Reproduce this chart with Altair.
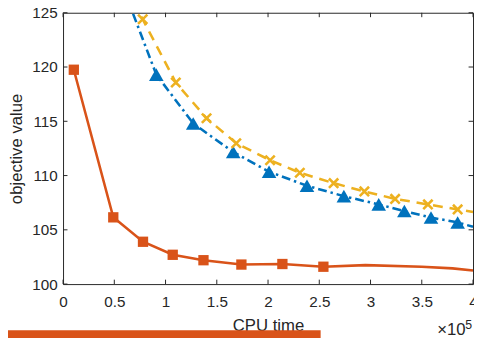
import altair as alt
import pandas as pd

# ---- data (x in units of 1e5 CPU time) ----
orange_x = [0.105, 0.49, 0.78, 1.07, 1.37, 1.74, 2.14, 2.54, 2.95, 3.5, 3.8, 4.0]
orange_y = [119.75, 106.15, 103.9, 102.7, 102.2, 101.8, 101.85, 101.6, 101.75, 101.6, 101.45, 101.25]
orange_mark = [1, 1, 1, 1, 1, 1, 1, 1, 0, 0, 0, 0]

blue_x = [0.55, 0.91, 1.27, 1.66, 2.01, 2.38, 2.74, 3.08, 3.33, 3.59, 3.85, 4.0]
blue_y = [128.2, 119.3, 114.8, 112.17, 110.35, 109.06, 108.1, 107.34, 106.73, 106.13, 105.68, 105.28]
blue_mark = [0, 1, 1, 1, 1, 1, 1, 1, 1, 1, 1, 0]

yellow_x = [0.6, 0.777, 1.10, 1.40, 1.69, 2.02, 2.31, 2.64, 2.94, 3.24, 3.56, 3.85, 4.0]
yellow_y = [127.3, 124.4, 118.57, 115.28, 112.98, 111.41, 110.26, 109.3, 108.54, 107.85, 107.34, 106.88, 106.64]
yellow_mark = [0, 1, 1, 1, 1, 1, 1, 1, 1, 1, 1, 1, 0]

x_ticks = [0, 0.5, 1, 1.5, 2, 2.5, 3, 3.5, 4]
y_ticks = [100, 105, 110, 115, 120, 125]
exp_labels = ["×10", "5"]

W, H = 417, 276
TXT = "#262626"
FONT = "Liberation Sans"
FS = 15.5
TFS = 17

ORANGE, BLUE, YELLOW = "#D95319", "#0072BD", "#EDB120"

def frame(xs, ys, ms):
    return pd.DataFrame({"x": xs, "y": ys, "m": ms})

dfo = frame(orange_x, orange_y, orange_mark)
dfb = frame(blue_x, blue_y, blue_mark)
dfy = frame(yellow_x, yellow_y, yellow_mark)

xsc = alt.Scale(domain=[0, 4], nice=False, zero=False)
ysc = alt.Scale(domain=[100, 125], nice=False, zero=False)

X = alt.X("x:Q", scale=xsc, axis=alt.Axis(values=x_ticks, ticks=False, domain=False, grid=False,
          title="CPU time", labelPadding=11, titlePadding=8, labelFlush=False,
          labelOverlap=False, labelBound=False, format="~g"))
Y = alt.Y("y:Q", scale=ysc, axis=alt.Axis(values=y_ticks, ticks=False, domain=False, grid=False,
          title="objective value", labelPadding=6, titlePadding=6, labelBound=False))

line_o = alt.Chart(dfo).mark_line(color=ORANGE, strokeWidth=2.6, clip=True).encode(x=X, y=Y)
pts_o = alt.Chart(dfo).transform_filter("datum.m == 1").mark_point(
    shape="square", filled=True, color=ORANGE, size=110, opacity=1).encode(x="x:Q", y="y:Q")

line_b = alt.Chart(dfb).mark_line(color=BLUE, strokeWidth=2.6, strokeDash=[9, 4, 2.5, 4], clip=True).encode(x="x:Q", y="y:Q")
pts_b = alt.Chart(dfb).transform_filter("datum.m == 1").mark_point(
    shape="triangle-up", filled=True, color=BLUE, size=220, opacity=1).encode(x="x:Q", y="y:Q")

line_y = alt.Chart(dfy).mark_line(color=YELLOW, strokeWidth=2.6, strokeDash=[10, 7], clip=True).encode(x="x:Q", y="y:Q")
pts_y = alt.Chart(dfy).transform_filter("datum.m == 1").mark_point(
    shape="M-1,-1L1,1M1,-1L-1,1", filled=False, color=YELLOW, size=90, strokeWidth=2.6, opacity=1).encode(x="x:Q", y="y:Q")

xt = pd.DataFrame({"x": x_ticks})
yt = pd.DataFrame({"y": y_ticks})
TL = 4.5
tick_b = alt.Chart(xt).mark_rule(color=TXT, strokeWidth=1).encode(x="x:Q", y=alt.value(H), y2=alt.value(H - TL))
tick_t = alt.Chart(xt).mark_rule(color=TXT, strokeWidth=1).encode(x="x:Q", y=alt.value(0), y2=alt.value(TL))
tick_l = alt.Chart(yt).mark_rule(color=TXT, strokeWidth=1).encode(y="y:Q", x=alt.value(0), x2=alt.value(TL))
tick_r = alt.Chart(yt).mark_rule(color=TXT, strokeWidth=1).encode(y="y:Q", x=alt.value(W), x2=alt.value(W - TL))

bar = alt.Chart(pd.DataFrame({"a": [0]})).mark_rule(color=ORANGE, strokeWidth=8, strokeCap="butt").encode(
    x=alt.value(-70), x2=alt.value(262), y=alt.value(327))

exp_base = alt.Chart(pd.DataFrame({"t": [exp_labels[0]]})).mark_text(
    font=FONT, fontSize=17, color=TXT, align="right", baseline="alphabetic").encode(
    text="t:N", x=alt.value(409.5), y=alt.value(328))
exp_sup = alt.Chart(pd.DataFrame({"t": [exp_labels[1]]})).mark_text(
    font=FONT, fontSize=12.5, color=TXT, align="left", baseline="alphabetic").encode(
    text="t:N", x=alt.value(409), y=alt.value(321.5))

chart = alt.layer(
    line_o, line_b, line_y, pts_o, pts_b, pts_y,
    tick_b, tick_t, tick_l, tick_r, bar, exp_base, exp_sup
).properties(
    width=W, height=H,
    autosize=alt.AutoSizeParams(type="none"),
    padding={"left": 56, "top": 2, "right": 1, "bottom": 52},
    background="white",
).configure_view(
    stroke=TXT, strokeWidth=1
).configure_axis(
    labelFont=FONT, titleFont=FONT, labelFontSize=FS, titleFontSize=TFS,
    labelColor=TXT, titleColor=TXT, titleFontWeight="normal"
)

chart.save("out.html", embed_options={"renderer": "svg", "actions": False})
